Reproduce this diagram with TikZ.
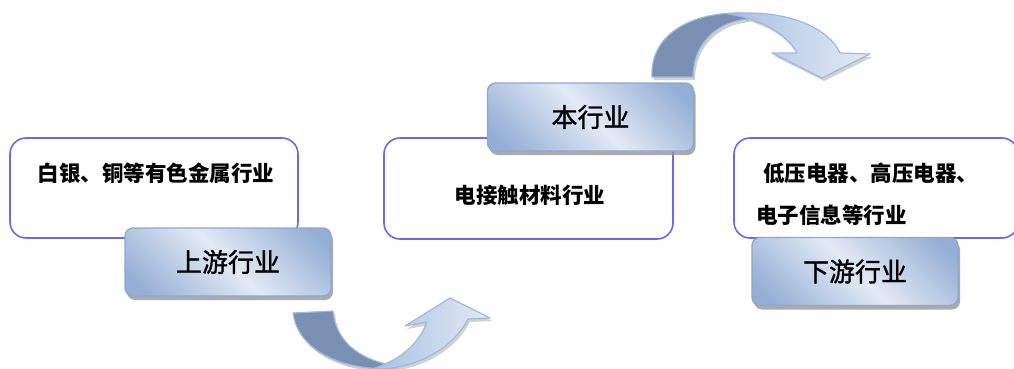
\documentclass[tikz,border=0pt]{standalone}
\usepackage{fontspec}
\newfontfamily\cjk{Noto Sans CJK SC}
\newfontfamily\cjkmed{Noto Sans CJK SC}[FakeBold=1.2]
\usetikzlibrary{shadows}
\definecolor{boxline}{RGB}{105,105,240}
\definecolor{lbdark}{RGB}{148,174,213}
\definecolor{lblight}{RGB}{226,234,245}
\definecolor{lbborder}{RGB}{141,168,208}
\definecolor{shadowgray}{RGB}{150,150,150}
\definecolor{darkband}{RGB}{122,144,178}
\definecolor{bandline}{RGB}{158,185,223}
\definecolor{bandA}{RGB}{168,192,224}
\definecolor{bandB}{RGB}{228,235,245}
\pgfdeclarehorizontalshading{lblshade}{100bp}{color(0bp)=(lbdark); color(20bp)=(lbdark); color(50bp)=(lblight); color(80bp)=(lbdark); color(100bp)=(lbdark)}
\tikzset{
  whitebox/.style={draw=boxline, line width=1.6pt, fill=white, rounded corners=16pt, inner sep=0pt},
  lbl/.style={draw=lbborder, line width=1.3pt, rounded corners=8pt, shading=lblshade, shading angle=45,
    drop shadow={shadow xshift=2pt, shadow yshift=-4pt, fill=shadowgray, opacity=0.8},
    minimum width=206pt, minimum height=68pt, inner sep=0pt, font=\cjkmed\fontsize{26}{26}\selectfont},
  txt/.style={inner sep=0pt, font=\cjk\bfseries\fontsize{21.5}{22}\selectfont},
  dband/.style={fill=darkband, draw=bandline, line width=1.2pt, line join=round},
  lband/.style={draw=bandline, line width=1.2pt, line join=round},
  ashadow/.style={fill=shadowgray, opacity=0.45}
}
\begin{document}
\begin{tikzpicture}[x=1pt, y=-1pt]
\useasboundingbox (0,0) rectangle (1014,369);
% ---- arrows (shadows) ----
\begin{scope}[shift={(2,3)}]
\fill[ashadow] (293,313) .. controls (298,350) and (340,370) .. (392,369) -- (398,366) .. controls (365,362) and (336,345) .. (333,311) -- cycle;
\fill[ashadow] (372,369) .. controls (420,370) and (455,345) .. (468,319) -- (490,318) -- (450,298) -- (405,326) -- (427,322) .. controls (418,345) and (400,360) .. (372,369) -- cycle;
\fill[ashadow] (652,77) .. controls (650,35) and (690,12) .. (742,13) -- (748,19) .. controls (715,22) and (693,45) .. (693,77) -- cycle;
\fill[ashadow] (728,14) .. controls (790,8) and (830,30) .. (840,53) -- (870,54) -- (822,78) -- (772,53) -- (797,53) .. controls (785,32) and (760,19) .. (728,14) -- cycle;
\end{scope}
% ---- bottom arrow ----
\draw[dband] (293,313) .. controls (298,350) and (340,370) .. (392,369) -- (398,366) .. controls (365,362) and (336,345) .. (333,311) -- cycle;
\draw[lband, left color=bandA, right color=bandB] (372,369) .. controls (420,370) and (455,345) .. (468,319) -- (490,318) -- (450,298) -- (405,326) -- (427,322) .. controls (418,345) and (400,360) .. (372,369) -- cycle;
% ---- top arrow ----
\draw[dband] (652,77) .. controls (650,35) and (690,12) .. (742,13) -- (748,19) .. controls (715,22) and (693,45) .. (693,77) -- cycle;
\draw[lband, left color=bandA, right color=bandB] (728,14) .. controls (790,8) and (830,30) .. (840,53) -- (870,54) -- (822,78) -- (772,53) -- (797,53) .. controls (785,32) and (760,19) .. (728,14) -- cycle;
% ---- boxes ----
\node[whitebox, minimum width=288pt, minimum height=100pt] (upbox) at (154,188) {};
\node[txt] (uptext) at (156,173) {白银、铜等有色金属行业};
\node[lbl] (uplabel) at (228,262) {上游行业};

\node[whitebox, minimum width=289pt, minimum height=101pt] (midbox) at (528.5,188.5) {};
\node[txt] (midtext) at (530,195) {电接触材料行业};
\node[lbl] (midlabel) at (590.5,117) {本行业};

\node[whitebox, minimum width=284pt, minimum height=100pt] (downbox) at (876,188) {};
\node[txt, anchor=west] (downtextA) at (763,173) {低压电器、高压电器、};
\node[txt, anchor=west] (downtextB) at (756,215) {电子信息等行业};
\node[lbl] (downlabel) at (855,271.5) {下游行业};
\end{tikzpicture}
\end{document}
